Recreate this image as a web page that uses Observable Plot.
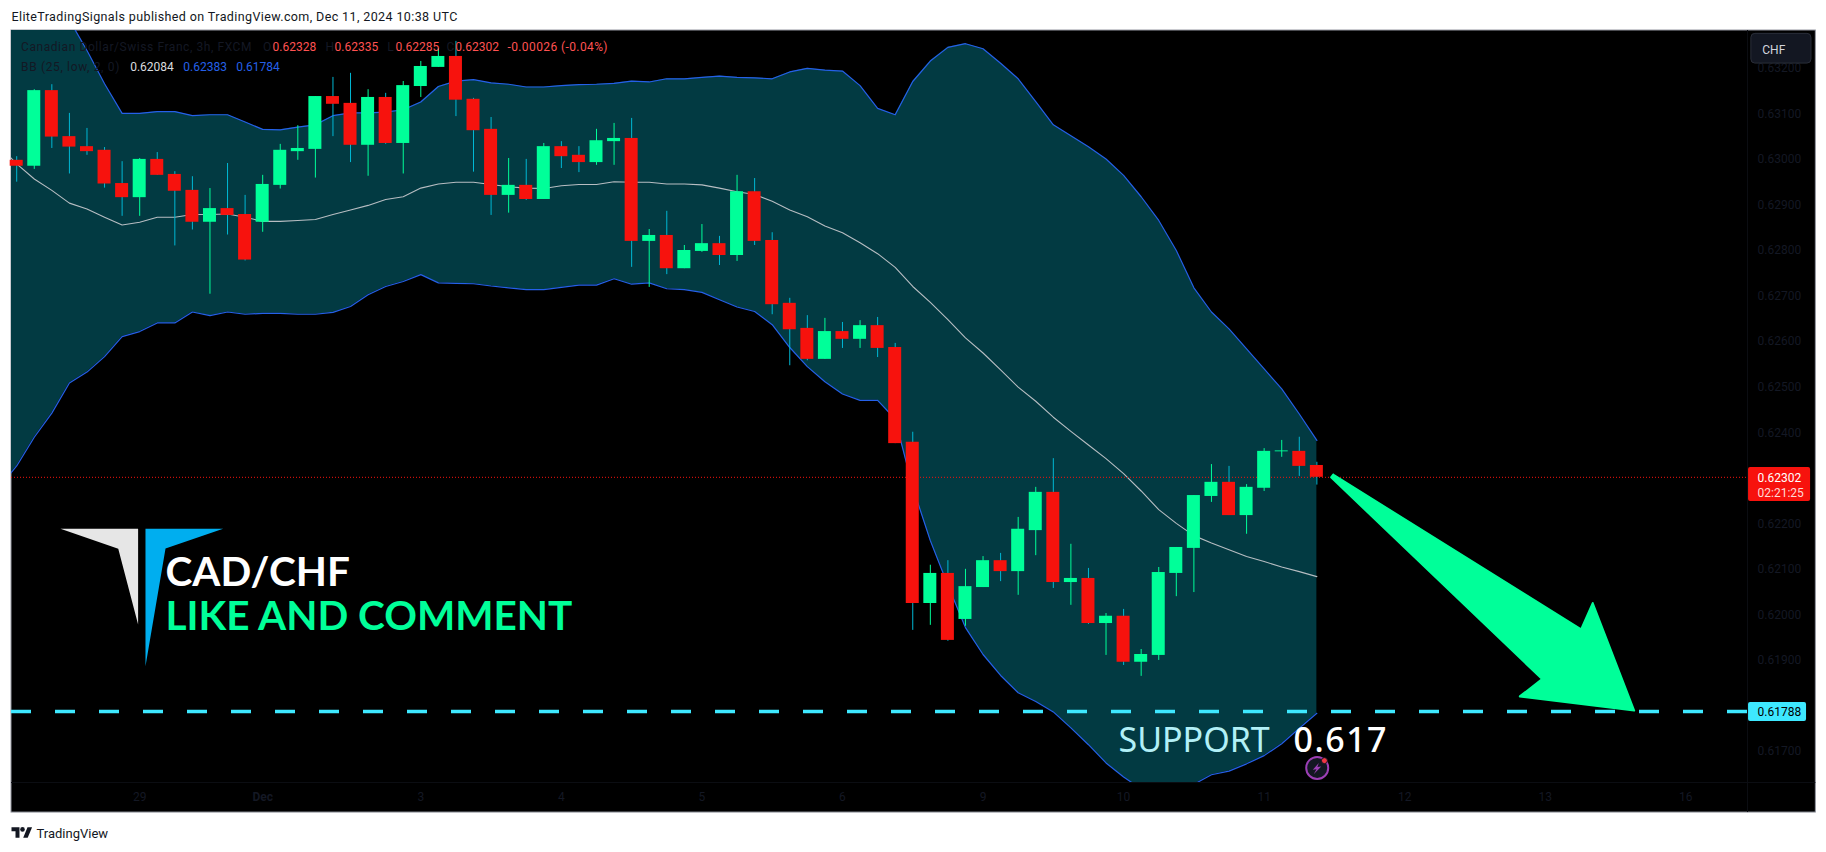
<!DOCTYPE html>
<html><head><meta charset="utf-8">
<style>html,body{margin:0;padding:0;background:#fff}svg{display:block}</style>
<script src="https://cdn.jsdelivr.net/npm/d3@7"></script>
<script src="https://cdn.jsdelivr.net/npm/@observablehq/plot@0.6"></script>
</head><body><div id="c"></div><script>
const openP=[.62998,.62985,.63151,.63050,.63028,.63020,.62947,.62916,.63000,.62967,.62932,.62862,.62892,.62879,.62862,.62943,.63017,.63022,.63138,.63123,.63031,.63136,.63035,.63160,.63202,.63226,.63132,.63066,.62921,.62943,.62912,.63028,.63009,.62993,.63039,.63046,.62820,.62833,.62760,.62798,.62815,.62789,.62929,.62822,.62684,.62629,.62561,.62622,.62605,.62635,.62587,.62379,.62025,.62091,.61990,.62060,.62119,.62095,.62185,.62269,.62071,.62080,.61981,.61997,.61896,.61911,.62091,.62146,.62260,.62291,.62218,.62278,.62358,.62359,.62328];
const highP=[.63006,.63153,.63164,.63101,.63068,.63026,.62995,.63002,.63015,.62973,.62962,.62936,.62991,.62921,.62965,.63033,.63074,.63138,.63180,.63189,.63153,.63145,.63171,.63215,.63243,.63259,.63134,.63092,.63002,.63000,.63035,.63039,.63028,.63066,.63079,.63090,.62846,.62886,.62811,.62857,.62831,.62965,.62958,.62839,.62695,.62657,.62651,.62642,.62646,.62653,.62596,.62401,.62109,.62119,.62100,.62128,.62135,.62214,.62280,.62343,.62155,.62102,.62003,.62012,.61924,.62104,.62148,.62262,.62330,.62326,.62286,.62365,.62383,.62390,.62335];
const lowP=[.62950,.62978,.63024,.62968,.63009,.62937,.62875,.62875,.62965,.62810,.62845,.62704,.62834,.62777,.62840,.62935,.62998,.62959,.63050,.62993,.62963,.63033,.62968,.63136,.63202,.63094,.62972,.62877,.62882,.62910,.62912,.62980,.62971,.62987,.62987,.62763,.62719,.62747,.62760,.62796,.62767,.62776,.62811,.62659,.62547,.62558,.62561,.62585,.62585,.62565,.62376,.61966,.61977,.61942,.61975,.62060,.62073,.62043,.62130,.62058,.62021,.61979,.61911,.61889,.61865,.61900,.62040,.62049,.62247,.62218,.62177,.62271,.62346,.62304,.62285];
const closeP=[.62985,.63151,.63049,.63027,.63017,.62946,.62916,.63000,.62965,.62930,.62862,.62892,.62877,.62779,.62945,.63020,.63024,.63138,.63121,.63031,.63136,.63035,.63162,.63204,.63226,.63130,.63063,.62921,.62943,.62912,.63028,.63006,.62993,.63041,.63046,.62820,.62833,.62760,.62800,.62815,.62789,.62929,.62820,.62681,.62626,.62561,.62622,.62605,.62635,.62585,.62376,.62025,.62091,.61944,.62062,.62119,.62095,.62188,.62269,.62071,.62080,.61981,.61997,.61896,.61913,.62093,.62148,.62262,.62291,.62218,.62280,.62359,.62360,.62326,.62302];
// Bollinger bands, from the bar before the first candle to the last one
const bandUpper=[.63500,.63450,.63420,.63380,.63306,.63239,.63166,.63101,.63101,.63105,.63105,.63096,.63098,.63098,.63082,.63066,.63065,.63071,.63076,.63096,.63102,.63102,.63104,.63109,.63126,.63160,.63172,.63175,.63168,.63165,.63159,.63159,.63162,.63164,.63165,.63167,.63172,.63170,.63177,.63177,.63180,.63183,.63180,.63179,.63177,.63192,.63200,.63196,.63194,.63162,.63112,.63098,.63171,.63216,.63246,.63254,.63243,.63211,.63177,.63127,.63076,.63052,.63028,.63001,.62965,.62918,.62866,.62800,.62718,.62665,.62628,.62584,.62540,.62496,.62441,.62383];
const bandLower=[.62280,.62327,.62390,.62443,.62509,.62533,.62567,.62611,.62622,.62641,.62641,.62665,.62657,.62665,.62660,.62662,.62662,.62660,.62660,.62664,.62677,.62703,.62721,.62732,.62747,.62729,.62728,.62727,.62722,.62718,.62714,.62714,.62719,.62724,.62724,.62738,.62726,.62729,.62716,.62714,.62708,.62692,.62676,.62666,.62637,.62587,.62545,.62512,.62485,.62471,.62471,.62430,.62280,.62163,.62065,.61972,.61913,.61867,.61829,.61810,.61787,.61752,.61715,.61675,.61644,.61618,.61604,.61607,.61628,.61649,.61657,.61673,.61691,.61717,.61751,.61784];
const bandBasis=[.63030,.62990,.62957,.62932,.62904,.62891,.62873,.62856,.62862,.62873,.62873,.62879,.62879,.62880,.62873,.62864,.62864,.62866,.62868,.62879,.62889,.62899,.62912,.62918,.62937,.62946,.62950,.62950,.62945,.62940,.62937,.62936,.62942,.62945,.62945,.62951,.62950,.62950,.62946,.62946,.62944,.62937,.62929,.62923,.62908,.62889,.62874,.62854,.62839,.62817,.62793,.62763,.62721,.62686,.62648,.62608,.62575,.62538,.62500,.62469,.62434,.62403,.62373,.62343,.62310,.62272,.62231,.62201,.62174,.62158,.62143,.62128,.62117,.62105,.62095,.62084];
const priceTicks=[.632,.631,.630,.629,.628,.627,.626,.625,.624,.622,.621,.620,.619,.617];
const dayBars=[7,23,31,39,47,55,63,71,79,87,95];
const dayLabels=["29","3","4","5","6","9","10","11","12","13","16"];
const monthBars=[14];
const lastPrice=.62302, supportPrice=.61788;
// annotation shapes, in bar number and price
const arrowBars=[74.93,89.04,89.70,92.06,85.55,86.82,74.81];
const arrowPrices=[.62308,.61968,.62026,.61790,.61821,.61859,.62302];
const logoGreyBars=[2.49,6.91,6.91,5.78];
const logoGreyPrices=[.62189,.62189,.61979,.62145];
const logoBlueBars=[7.33,11.75,8.47,7.33];
const logoBluePrices=[.62189,.62189,.62146,.61887];
const boltBars=[74.11,73.77,73.98,73.82,74.25,74.03];
const boltPrices=[.61675,.61660,.61661,.61650,.61667,.61666];
const tvTBars=[-.296,.159,.159,-.068,-.068,-.296];
const tvTPrices=[.61534,.61534,.615105,.615105,.61525,.61525];
const tvSevenBars=[.876,.615,.37,.626];
const tvSevenPrices=[.61534,.61534,.615105,.615105];

const GREEN="#00ff99",RED="#f7120d",WICK="#00b8d4",CYAN="#3ee8ff",BLUE="#2560e8",DIM="#141824",TEAL="#023a42",SOFT="#ff5252";
const XL=-.296,XR=98.51,YB=.61632,YT=.63283;
const candles=openP.map((o,i)=>({i,o,h:highP[i],l:lowP[i],c:closeP[i],up:closeP[i]>=o}));
const band=bandUpper.map((u,k)=>({i:k-1,u,l:bandLower[k],b:bandBasis[k]}));
const poly=(xs,ys,fill,o={})=>Plot.line(xs.map((x,k)=>({x,y:ys[k]})).concat([{x:xs[0],y:ys[0]}]),{x:"x",y:"y",fill,stroke:"none",...o});
const box=(x1,x2,y1,y2,fill,o={})=>Plot.rect([{x1,x2,y1,y2}],{x1:"x1",x2:"x2",y1:"y1",y2:"y2",fill,...o});
const label=(text,x,y,fill,fontSize=12,o={})=>{
  const {spacing,...rest}=o;
  return Plot.text([{text,x,y}],{x:"x",y:"y",text:"text",textAnchor:"start",lineAnchor:"bottom",fill,fontSize,...rest,
    render:spacing==null?undefined:(i,s,v,d,c,next)=>{const g=next(i,s,v,d,c);g.style.letterSpacing=spacing+"px";return g;}});
};

const chart=Plot.plot({
  width:1826,height:852,marginLeft:11,marginRight:79,marginTop:30,marginBottom:70,
  style:{background:"#fff",fontFamily:"Roboto, sans-serif",overflow:"visible"},
  x:{type:"linear",domain:[XL,XR]},
  y:{type:"linear",domain:[YB,YT]},
  marks:[
    box(XL,102.4,.61566,YT,"#000",{stroke:"#9598a1",strokeWidth:1}),
    Plot.ruleY([YB],{x1:XL,x2:102.4,stroke:"#0b0d12"}),
    Plot.ruleX([XR],{y1:.61566,y2:YT,stroke:"#0b0d12"}),
    Plot.areaY(band,{x:"i",y1:"l",y2:"u",fill:TEAL,clip:true}),
    Plot.line(band,{x:"i",y:"u",stroke:BLUE,strokeWidth:1.2,clip:true}),
    Plot.line(band,{x:"i",y:"l",stroke:BLUE,strokeWidth:1.2,clip:true}),
    Plot.line(band,{x:"i",y:"b",stroke:"#b7bdc2",strokeWidth:1.1,clip:true}),
    Plot.ruleY([lastPrice],{x1:XL,x2:XR,stroke:RED,strokeWidth:1,strokeDasharray:"1 2"}),
    Plot.ruleX(candles,{x:"i",y1:"l",y2:"h",stroke:d=>d.up?GREEN:WICK,strokeWidth:1}),
    Plot.rect(candles,{x1:d=>d.i-.37,x2:d=>d.i+.37,y1:"o",y2:"c",fill:d=>d.up?GREEN:RED}),
    Plot.ruleY([supportPrice],{x1:XL,x2:XR,stroke:CYAN,strokeWidth:3.6,strokeDasharray:"20 24"}),
    poly(arrowBars,arrowPrices,GREEN,{stroke:GREEN,strokeWidth:2,strokeLinejoin:"round"}),
    poly(logoGreyBars,logoGreyPrices,"#e6e6e6"),
    poly(logoBlueBars,logoBluePrices,"#00aeef"),
    Plot.axisY({anchor:"right",ticks:priceTicks,tickSize:0,tickPadding:10,tickFormat:".5f",label:null,fill:DIM,fontSize:12,textAnchor:"start"}),
    Plot.axisX({anchor:"bottom",ticks:dayBars,tickSize:0,tickPadding:10,tickFormat:d=>dayLabels[dayBars.indexOf(d)],label:null,fill:DIM,fontSize:12}),
    Plot.axisX({anchor:"bottom",ticks:monthBars,tickSize:0,tickPadding:10,tickFormat:()=>"Dec",label:null,fill:DIM,fontSize:12,fontWeight:"bold"}),
    label("Canadian Dollar/Swiss Franc, 3h, FXCM",.245,.63237,DIM,12,{spacing:.57}),
    label("O",14.02,.63237,DIM),label("0.62328",14.56,.63237,SOFT),
    label("H",17.58,.63237,DIM),label("0.62335",18.09,.63237,SOFT),
    label("L",21.09,.63237,DIM),label("0.62285",21.56,.63237,SOFT),
    label("C",24.46,.63237,DIM),label("0.62302",24.96,.63237,SOFT),
    label("-0.00026 (-0.04%)",27.93,.63237,SOFT,12,{spacing:.4}),
    label("BB (25, low, 2, 0)",.245,.63195,DIM,12,{spacing:.65}),
    label("0.62084",6.46,.63195,"#d9dbdf"),label("0.62383",9.48,.63195,BLUE),label("0.61784",12.49,.63195,BLUE),
    label("CAD/CHF",8.47,.62064,"#fff",40.5,{fontFamily:"Lato",fontWeight:700}),
    label("LIKE AND COMMENT",8.47,.61967,GREEN,40.5,{fontFamily:"Lato",fontWeight:700}),
    label("SUPPORT",62.71,.61698,"#b2f0f7",34,{fontFamily:"Noto Sans"}),
    label("0.617",72.67,.61698,"#fff",34,{fontFamily:"Noto Sans",fontWeight:500,spacing:1.5}),
    Plot.dot([{x:74.02,y:.61664}],{x:"x",y:"y",r:11,fill:"#131722",stroke:"#9c3fb5",strokeWidth:2}),
    poly(boltBars,boltPrices,"#9c3fb5"),
    Plot.dot([{x:74.43,y:.6168}],{x:"x",y:"y",r:3,fill:"#f23645",stroke:"#131722",strokeWidth:1}),
    box(98.57,102.1,.622488,.623235,RED,{r:2}),
    label("0.62302",99.08,.62292,"#fff"),label("02:21:25",99.08,.62258,"#ffd9d6"),
    box(98.57,101.87,.61766,.618076,CYAN,{r:2}),
    label("0.61788",99.08,.61778,"#000"),
    box(98.73,102.15,.632104,.632756,"#131722",{stroke:"#2a2e39",strokeWidth:1,r:4}),
    label("CHF",99.35,.63232,"#d1d4dc"),
    label("EliteTradingSignals published on TradingView.com, Dec 11, 2024 10:38 UTC",-.296,.63303,"#131722",12.5,{spacing:.39}),
    poly(tvTBars,tvTPrices,"#131722"),
    poly(tvSevenBars,tvSevenPrices,"#131722"),
    Plot.dot([{x:.33,y:.61529}],{x:"x",y:"y",r:2.3,fill:"#131722"}),
    label("TradingView",1.127,.6151,"#131722",13)
  ]
});
document.getElementById("c").append(chart);
</script></body></html>
